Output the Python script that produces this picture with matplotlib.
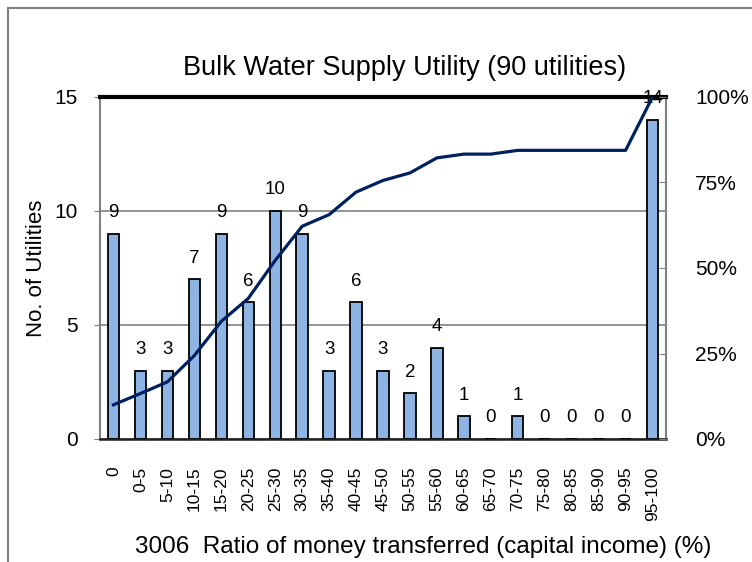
import matplotlib.pyplot as plt
from matplotlib.patches import Rectangle

plt.rcParams['font.family'] = ['Liberation Sans', 'DejaVu Sans']

# Data
categories = ['0', '0-5', '5-10', '10-15', '15-20', '20-25', '25-30', '30-35',
              '35-40', '40-45', '45-50', '50-55', '55-60', '60-65', '65-70',
              '70-75', '75-80', '80-85', '85-90', '90-95', '95-100']
counts = [9, 3, 3, 7, 9, 6, 10, 9, 3, 6, 3, 2, 4, 1, 0, 1, 0, 0, 0, 0, 14]
cumulative_pct = [10.0, 13.3, 16.7, 24.4, 34.4, 41.1, 52.2, 62.2, 65.6, 72.2,
                  75.6, 77.8, 82.2, 83.3, 83.3, 84.4, 84.4, 84.4, 84.4, 84.4, 100.0]

fig = plt.figure(figsize=(7.52, 5.62), dpi=100)
# outer chart frame
fig.patches.append(Rectangle((8 / 752, -0.1), 1.2, 1.1 - 8 / 562, transform=fig.transFigure,
                             fill=False, edgecolor='#808080', linewidth=1.5))

ax = fig.add_axes([100 / 752, 1 - 439 / 562, 566 / 752, 342 / 562])
x = list(range(len(categories)))
ax.bar(x, counts, width=0.42, color='#8EB4E3', edgecolor='black', linewidth=1.3, zorder=3)
for xi, c in zip(x, counts):
    ax.text(xi, c + 0.55, str(c), ha='center', va='bottom', fontsize=13.5)

ax.set_xlim(-0.5, len(categories) - 0.5)
ax.set_ylim(0, 15)
ax.set_yticks([0, 5, 10, 15])
ax.tick_params(axis='y', labelsize=15, length=4, pad=12, color='#808080')
ax.tick_params(axis='x', labelsize=12.5, length=0, pad=20)
ax.set_xticks(x)
ax.set_xticklabels(categories, rotation=90)
ax.yaxis.grid(True, color='#808080', linewidth=1.2, zorder=0)
for side in ['left', 'right']:
    ax.spines[side].set_color('#808080')
    ax.spines[side].set_linewidth(1.5)
ax.spines['bottom'].set_color('#202020')
ax.spines['bottom'].set_linewidth(1.8)
ax.spines['top'].set_color('black')
ax.spines['top'].set_linewidth(3)

ax2 = ax.twinx()
ax2.plot(x, cumulative_pct, color='#002060', linewidth=2.3, zorder=4)
ax2.set_ylim(0, 100)
ax2.set_yticks([0, 25, 50, 75, 100])
ax2.set_yticklabels(['0%', '25%', '50%', '75%', '100%'])
ax2.tick_params(axis='y', labelsize=15, direction='in', length=5, pad=21, color='#808080')
for s in ax2.spines.values():
    s.set_visible(False)

# titles positioned as in the original chart
fig.text(405 / 752, 1 - 68 / 562, 'Bulk Water Supply Utility (90 utilities)',
         fontsize=19.5, ha='center', va='center')
fig.text(423 / 752, 1 - 547 / 562, '3006  Ratio of money transferred (capital income) (%)',
         fontsize=17.5, ha='center', va='center')
fig.text(36 / 752, 1 - 268 / 562, 'No. of Utilities', fontsize=16,
         rotation=90, ha='center', va='center')

fig.savefig('out.png', dpi=100)
